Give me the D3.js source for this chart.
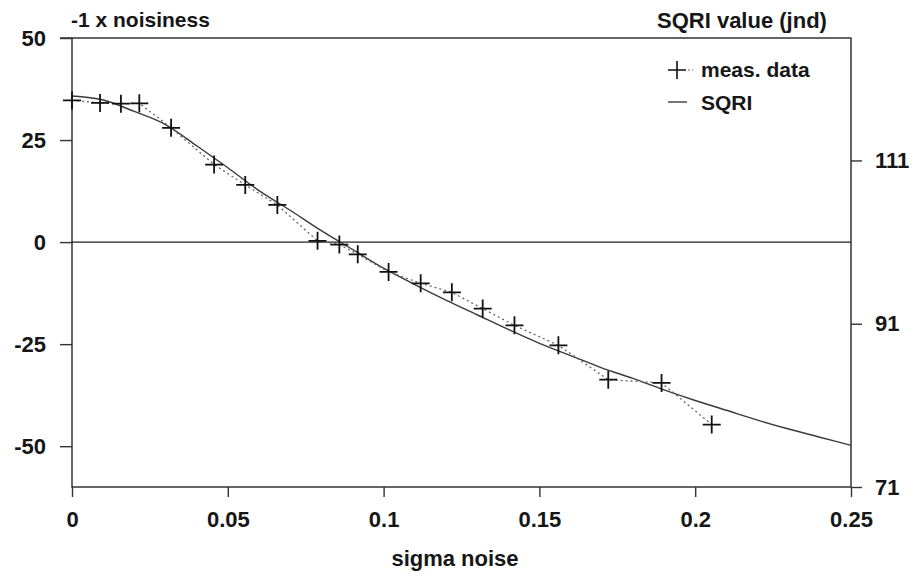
<!DOCTYPE html>
<html>
    <body style="margin:0;background:#fff">
        <svg></svg>
        <script src="https://d3js.org/d3.v7.min.js"></script>

        <style>
          text {
              font-family: "Liberation Sans", Arial, sans-serif;
              font-weight: bold;
              fill: #161616;
          }
        </style>

        <script>
            const width = 919;
            const height = 578;

            // measured points: sigma noise vs -1 x noisiness
            const measX = [0, 0.009, 0.0157, 0.0216, 0.0318, 0.0456, 0.0556, 0.0659, 0.0788, 0.0858,
                           0.0917, 0.1016, 0.1119, 0.1219, 0.1318, 0.142, 0.1561, 0.1721, 0.1892, 0.2053];
            const measY = [34.7, 34.1, 33.9, 34.0, 28.0, 19.0, 14.0, 9.1, 0.3, -0.6,
                           -3.0, -7.3, -10.1, -12.3, -16.3, -20.4, -25.3, -33.7, -34.5, -44.7];

            // SQRI curve, in jnd (right axis)
            const sqriX = [0, 0.01, 0.02, 0.03, 0.04, 0.05, 0.06, 0.07, 0.08, 0.09, 0.10, 0.11, 0.12,
                           0.13, 0.14, 0.15, 0.16, 0.17, 0.18, 0.19, 0.20, 0.21, 0.22, 0.23, 0.24, 0.25];
            const sqriJnd = [118.9, 118.4, 117.0, 115.4, 112.8, 110.1, 107.3, 104.9, 102.4, 100.1, 97.8, 95.8, 93.9,
                             92.1, 90.3, 88.6, 87.1, 85.6, 84.3, 82.9, 81.6, 80.4, 79.2, 78.1, 77.1, 76.1];

            const xTicks = [0, 0.05, 0.1, 0.15, 0.2, 0.25];
            const leftTicks = [50, 25, 0, -25, -50];
            const rightTicks = [111, 91, 71];

            const svg = d3.select('svg')
                .attr('width', width).attr('height', height);

            const x = d3.scaleLinear().domain([0, 0.25]).range([72, 851]);
            const yL = d3.scaleLinear().domain([-60, 50]).range([487, 38]);
            const yR = d3.scaleLinear().domain([71, 126]).range([487, 38]);

            const fmt = d => d === 0 ? '0' : String(d);

            // axes
            svg.append('g')
                .attr('transform', 'translate(0,487)')
                .call(d3.axisBottom(x).tickValues(xTicks).tickFormat(fmt).tickSize(10).tickPadding(14))
                .call(g => g.select('.domain').remove());
            svg.append('g')
                .attr('transform', 'translate(72,0)')
                .call(d3.axisLeft(yL).tickValues(leftTicks).tickFormat(fmt).tickSize(12).tickPadding(14))
                .call(g => g.select('.domain').remove());
            svg.append('g')
                .attr('transform', 'translate(851,0)')
                .call(d3.axisRight(yR).tickValues(rightTicks).tickSize(11).tickPadding(13))
                .call(g => g.select('.domain').remove());

            svg.selectAll('.tick line').attr('stroke', '#333').attr('stroke-width', 1.4);
            svg.selectAll('.tick text')
                .style('font-size', '22px')
                .attr('fill', '#161616');

            // frame
            svg.append('rect')
                .attr('x', 72).attr('y', 38)
                .attr('width', 851 - 72).attr('height', 487 - 38)
                .attr('fill', 'none')
                .attr('stroke', '#333')
                .attr('stroke-width', 1.5);
            svg.append('line')
                .attr('x1', 60).attr('x2', 72)
                .attr('y1', 38).attr('y2', 38)
                .attr('stroke', '#333').attr('stroke-width', 1.5);

            // zero line
            svg.append('line')
                .attr('x1', x(0)).attr('x2', x(0.25))
                .attr('y1', yL(0)).attr('y2', yL(0))
                .attr('stroke', '#222').attr('stroke-width', 1.2);

            // SQRI solid curve
            const sqriLine = d3.line()
                .x((d, i) => x(sqriX[i]))
                .y(d => yR(d))
                .curve(d3.curveMonotoneX);
            svg.append('path')
                .datum(sqriJnd)
                .attr('d', sqriLine)
                .attr('fill', 'none')
                .attr('stroke', '#3a3a3a')
                .attr('stroke-width', 1.4);

            // measured data dotted line
            const measLine = d3.line()
                .x((d, i) => x(measX[i]))
                .y(d => yL(d));
            svg.append('path')
                .datum(measY)
                .attr('d', measLine)
                .attr('fill', 'none')
                .attr('stroke', '#666')
                .attr('stroke-width', 1.3)
                .attr('stroke-dasharray', '2,3');

            // plus markers
            const plus = d3.symbol().type(d3.symbolCross);
            svg.append('g').selectAll('path')
                .data(measY)
                .enter().append('path')
                .attr('d', 'M-9,0H9M0,-9V9')
                .attr('transform', (d, i) => `translate(${x(measX[i])},${yL(d)})`)
                .attr('stroke', '#111')
                .attr('stroke-width', 1.8);

            // legend
            const legend = svg.append('g');
            legend.append('path')
                .attr('d', 'M668,70H686M677,61V79')
                .attr('stroke', '#111').attr('stroke-width', 1.6);
            legend.append('line')
                .attr('x1', 688).attr('x2', 693).attr('y1', 70).attr('y2', 70)
                .attr('stroke', '#666').attr('stroke-width', 1.2).attr('stroke-dasharray', '2,2');
            legend.append('text')
                .attr('x', 701).attr('y', 77)
                .style('font-size', '21px')
                .text('meas. data');
            legend.append('line')
                .attr('x1', 668).attr('x2', 687).attr('y1', 102).attr('y2', 102)
                .attr('stroke', '#3a3a3a').attr('stroke-width', 1.4);
            legend.append('text')
                .attr('x', 701).attr('y', 110)
                .style('font-size', '21px')
                .text('SQRI');

            // titles
            svg.append('text')
                .attr('x', 71).attr('y', 27)
                .style('font-size', '21px')
                .text('-1 x noisiness');
            svg.append('text')
                .attr('x', 657).attr('y', 28)
                .style('font-size', '22px')
                .text('SQRI value (jnd)');
            svg.append('text')
                .attr('x', 455).attr('y', 566)
                .attr('text-anchor', 'middle')
                .style('font-size', '22px')
                .text('sigma noise');
        </script>
    </body>
</html>
